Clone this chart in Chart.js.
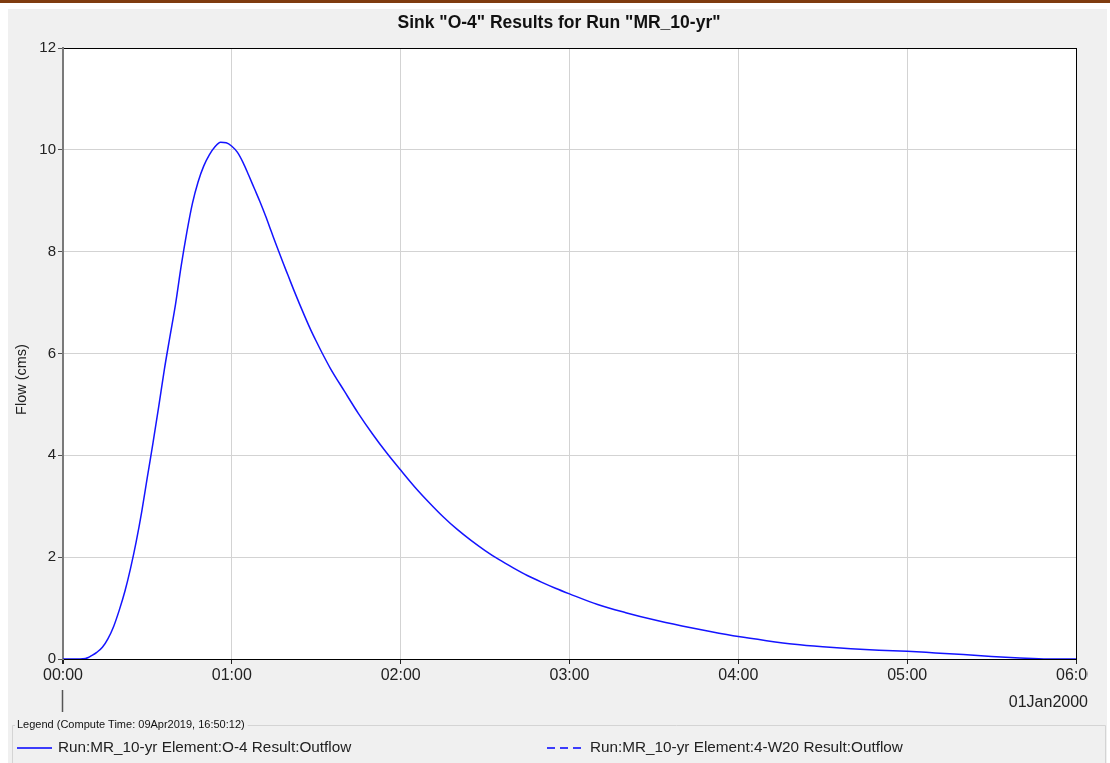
<!DOCTYPE html>
<html><head><meta charset="utf-8">
<script src="https://cdn.jsdelivr.net/npm/chart.js@4/dist/chart.umd.min.js"></script>
<style>html,body{margin:0;padding:0;background:#fff;overflow:hidden}canvas{display:block}</style>
</head><body>
<div style="width:1110px;height:763px;position:relative"><canvas id="c" width="1110" height="763"></canvas></div>
<script>
const chartTitle = 'Sink "O-4" Results for Run "MR_10-yr"';
const yAxisTitle = 'Flow (cms)';
const dateLabel = '01Jan2000';
const legendTitle = 'Legend (Compute Time: 09Apr2019, 16:50:12)';
const seriesNames = ['Run:MR_10-yr Element:O-4 Result:Outflow', 'Run:MR_10-yr Element:4-W20 Result:Outflow'];

const timeMinutes = [0,3,6,8,9,10,12,14,16,18,20,22,24,26,28,30,32,34,36,38,40,42,44,46,48,50,52,54,56,58,60,
  62,64,66,68,70,72,74,76,78,80,82,84,86,88,90,92,95,100,105,110,115,120,125,130,135,140,145,150,155,160,165,170,175,180,
  190,200,210,220,230,240,250,260,270,280,290,300,310,320,330,340,350,360];
const outflowO4 = [0,0,0,0.01,0.03,0.06,0.13,0.23,0.40,0.64,0.96,1.33,1.78,2.3,2.9,3.58,4.25,4.95,5.68,6.33,6.97,7.72,8.38,8.95,9.37,9.68,9.9,10.06,10.15,10.14,10.07,
  9.95,9.75,9.5,9.24,8.98,8.7,8.4,8.1,7.81,7.53,7.25,6.98,6.72,6.47,6.24,6.02,5.71,5.26,4.82,4.42,4.05,3.71,3.38,3.08,2.8,2.55,2.33,2.13,1.95,1.79,1.64,1.51,1.39,1.28,
  1.07,0.91,0.77,0.65,0.54,0.44,0.36,0.29,0.24,0.20,0.17,0.15,0.12,0.09,0.05,0.02,0.0,0.0];
const outflow4W20 = [];
const yTickValues = [0,2,4,6,8,10,12];
const xTickMinutes = [0,60,120,180,240,300,360];

const FONT = '"Liberation Sans", Arial, sans-serif';
const LINE_BLUE = '#1414ff';
const fmtTime = m => String(Math.floor(m/60)).padStart(2,'0') + ':' + String(m%60).padStart(2,'0');

const decor = {
  id: 'decor',
  beforeDraw(chart) {
    const ctx = chart.ctx, a = chart.chartArea;
    ctx.save();
    ctx.fillStyle = '#ffffff'; ctx.fillRect(0, 0, 1110, 763);
    ctx.fillStyle = '#7f3c10'; ctx.fillRect(0, 0, 1110, 3);
    ctx.fillStyle = '#f0f0f0'; ctx.fillRect(8, 9, 1099, 754);
    ctx.fillStyle = '#ffffff'; ctx.fillRect(a.left, a.top, a.right - a.left, a.bottom - a.top);
    ctx.restore();
  },
  afterDraw(chart) {
    const ctx = chart.ctx, a = chart.chartArea, xs = chart.scales.x;
    ctx.save();
    ctx.fillStyle = '#f0f0f0'; ctx.fillRect(1088, 662, 19, 30);
    ctx.fillStyle = '#111'; ctx.textAlign = 'center'; ctx.textBaseline = 'middle';
    ctx.font = 'bold 17.5px ' + FONT;
    ctx.fillText(chartTitle, 559, 23);
    ctx.save();
    ctx.translate(22, (a.top + a.bottom) / 2 + 26);
    ctx.rotate(-Math.PI / 2);
    ctx.font = '14.5px ' + FONT; ctx.fillStyle = '#222';
    ctx.fillText(yAxisTitle, 0, 0);
    ctx.restore();
    ctx.font = '16px ' + FONT; ctx.fillStyle = '#222'; ctx.textAlign = 'right';
    ctx.fillText(dateLabel, 1088, 703);
    const x0 = Math.round(xs.getPixelForValue(timeMinutes[0])) - 0.5;
    ctx.strokeStyle = '#555'; ctx.lineWidth = 1.5;
    ctx.beginPath(); ctx.moveTo(x0, 690); ctx.lineTo(x0, 712); ctx.stroke();
    ctx.font = '11px ' + FONT; ctx.textAlign = 'left';
    const tw = ctx.measureText(legendTitle).width;
    ctx.strokeStyle = '#d4d4d4'; ctx.lineWidth = 1;
    ctx.beginPath();
    ctx.moveTo(15, 725.5); ctx.lineTo(12.5, 725.5); ctx.lineTo(12.5, 763);
    ctx.moveTo(17 + tw + 3, 725.5); ctx.lineTo(1105.5, 725.5); ctx.lineTo(1105.5, 763);
    ctx.stroke();
    ctx.fillStyle = '#111';
    ctx.fillText(legendTitle, 17, 725);
    const entries = [{x: 17, tx: 58, dash: []}, {x: 547, tx: 590, dash: [8, 5]}];
    ctx.font = '15.3px ' + FONT;
    entries.forEach((e, i) => {
      ctx.save();
      ctx.strokeStyle = '#0000ff'; ctx.lineWidth = 1.6;
      ctx.setLineDash(e.dash);
      ctx.beginPath(); ctx.moveTo(e.x, 748); ctx.lineTo(e.x + 35, 748); ctx.stroke();
      ctx.restore();
      ctx.fillStyle = '#222';
      ctx.fillText(seriesNames[i], e.tx, 748);
    });
    ctx.restore();
  }
};

new Chart(document.getElementById('c'), {
  type: 'line',
  data: {
    datasets: [
      { label: seriesNames[0], data: timeMinutes.map((t, i) => ({x: t, y: outflowO4[i]})),
        borderColor: LINE_BLUE, borderWidth: 1.5, pointRadius: 0, fill: false, cubicInterpolationMode: 'monotone' },
      { label: seriesNames[1], data: outflow4W20.map((v, i) => ({x: timeMinutes[i], y: v})),
        borderColor: LINE_BLUE, borderWidth: 1.5, borderDash: [8, 5], pointRadius: 0, fill: false }
    ]
  },
  plugins: [decor],
  options: {
    responsive: false, animation: false, devicePixelRatio: 1,
    layout: { padding: { left: 0, top: 48, right: 34, bottom: 0 } },
    plugins: { legend: { display: false }, title: { display: false }, tooltip: { enabled: false } },
    scales: {
      x: {
        type: 'linear', min: 0, max: 360,
        afterFit: s => { s.height = 104; },
        afterBuildTicks: s => { s.ticks = xTickMinutes.map(v => ({value: v})); },
        ticks: { callback: v => fmtTime(v), font: { family: FONT, size: 16 }, color: '#222', padding: 2, maxRotation: 0, autoSkip: false },
        grid: {
          color: c => c.tick && c.tick.value === 0 ? '#7a7a7a' : (c.tick && c.tick.value === 360 ? '#000' : '#d3d3d3'),
          lineWidth: c => c.tick && c.tick.value === 0 ? 2 : 1,
          tickColor: '#222', tickLength: 5
        },
        border: { display: true, color: '#000', width: 1 }
      },
      y: {
        type: 'linear', min: 0, max: 12,
        afterFit: s => { s.width = 63; },
        afterBuildTicks: s => { s.ticks = yTickValues.map(v => ({value: v})); },
        ticks: { font: { family: FONT, size: 15 }, color: '#222', padding: 2 },
        grid: {
          color: c => c.tick && (c.tick.value === 12 || c.tick.value === 0) ? '#000' : '#d3d3d3',
          tickColor: '#555', tickLength: 5
        },
        border: { display: true, color: '#7a7a7a', width: 2 }
      }
    }
  }
});
</script>
</body></html>
